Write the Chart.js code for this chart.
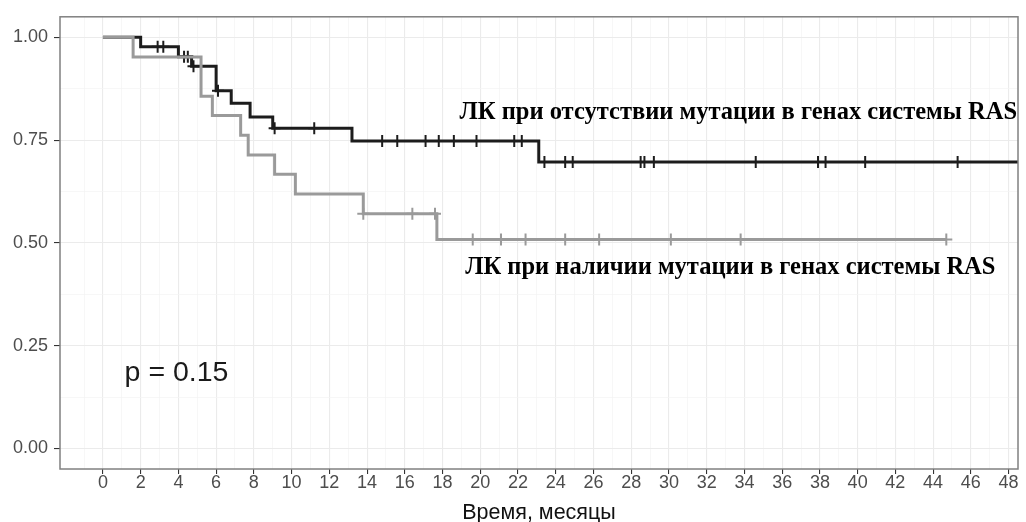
<!DOCTYPE html>
<html>
<head>
<meta charset="utf-8">
<script src="https://cdn.jsdelivr.net/npm/chart.js@4.4.1/dist/chart.umd.min.js"></script>
<style>
   html, body { margin: 0; padding: 0; background: #fff; overflow: hidden; }
</style>
</head>
<body>
<canvas id="km" width="1026" height="545"></canvas>
<script>
// no RAS mutation (black curve): step times and survival after each step
const wtTimes = [0, 2.0, 4.0, 4.7, 6.0, 6.8, 7.8, 9.0, 13.2, 23.1, 48.5];
const wtSurv  = [1, 0.977, 0.953, 0.93, 0.87, 0.84, 0.806, 0.779, 0.748, 0.697, 0.697];
const wtCensored = [2.9, 3.2, 4.3, 4.5, 4.8, 6.1, 9.1, 11.2, 14.8, 15.6, 17.1, 17.8, 18.6, 19.8,
   21.8, 22.2, 23.4, 24.5, 24.9, 28.5, 28.7, 29.2, 34.6, 37.9, 38.3, 40.4, 45.3];

// RAS mutation (grey curve)
const mutTimes = [0, 1.6, 5.2, 5.8, 7.3, 7.7, 9.1, 10.2, 13.8, 17.7, 44.7];
const mutSurv  = [1, 0.952, 0.857, 0.81, 0.762, 0.714, 0.667, 0.619, 0.571, 0.508, 0.508];
const mutCensored = [13.8, 16.4, 17.6, 19.6, 21.1, 22.4, 24.5, 26.3, 30.1, 33.8, 44.7];

// axis breaks
const xMajor = [0, 2, 4, 6, 8, 10, 12, 14, 16, 18, 20, 22, 24, 26, 28, 30, 32, 34, 36, 38, 40, 42, 44, 46, 48];
const xMinor = [-1, 1, 3, 5, 7, 9, 11, 13, 15, 17, 19, 21, 23, 25, 27, 29, 31, 33, 35, 37, 39, 41, 43, 45, 47];
const yMajor = [0, 0.25, 0.5, 0.75, 1];
const yMinor = [0.125, 0.375, 0.625, 0.875];

const labelNoMut = 'ЛК при отсутствии мутации в генах системы RAS';
const labelMut = 'ЛК при наличии мутации в генах системы RAS';
const pLabel = 'p = 0.15';
const xTitle = 'Время, месяцы';

const SANS = '"Liberation Sans", Arial, sans-serif';
const SERIF = '"Liberation Serif", "Times New Roman", serif';

function curve(times, surv) {
   return times.map((t, i) => ({ x: t, y: surv[i] }));
}

// censor marks sit on the curve: value of the step function at that time
function censorPoints(marks, times, surv) {
   return marks.map(t => {
      let s = surv[0];
      for (let i = 0; i < times.length; i++) {
         if (times[i] <= t) s = surv[i];
      }
      return { x: t, y: s };
   });
}

function allTicks(major, minor) {
   return major.concat(minor).sort((a, b) => a - b).map(v => ({ value: v }));
}

const panelDecor = {
   id: 'panelDecor',
   afterDatasetsDraw(chart) {
      const { ctx, chartArea: a } = chart;
      ctx.save();
      ctx.strokeStyle = '#808080';
      ctx.lineWidth = 1.5;
      ctx.strokeRect(a.left, a.top, a.right - a.left, a.bottom - a.top);
      ctx.restore();
   },
   afterDraw(chart) {
      const { ctx } = chart;
      const x = chart.scales.x, y = chart.scales.y;
      ctx.save();
      ctx.fillStyle = '#000';
      ctx.textBaseline = 'middle';
      ctx.textAlign = 'left';
      ctx.font = 'bold 24.5px ' + SERIF;
      ctx.fillText(labelNoMut, x.getPixelForValue(18.9), y.getPixelForValue(0.816));
      ctx.fillText(labelMut, x.getPixelForValue(19.2), y.getPixelForValue(0.44));
      ctx.fillStyle = '#1a1a1a';
      ctx.font = '28.5px ' + SANS;
      ctx.fillText(pLabel, x.getPixelForValue(1.15), y.getPixelForValue(0.184));
      ctx.restore();
   }
};

const BLACK = '#1c1c1c';
const GREY = '#9a9a9a';

new Chart(document.getElementById('km'), {
   type: 'line',
   data: {
      datasets: [{
         data: curve(mutTimes, mutSurv),
         stepped: 'before',
         borderColor: GREY,
         borderWidth: 3,
         pointRadius: 0
      }, {
         data: censorPoints(mutCensored, mutTimes, mutSurv),
         showLine: false,
         pointStyle: 'cross',
         pointRadius: 6,
         pointBorderWidth: 2,
         pointBorderColor: GREY
      }, {
         data: curve(wtTimes, wtSurv),
         stepped: 'before',
         borderColor: BLACK,
         borderWidth: 3,
         pointRadius: 0
      }, {
         data: censorPoints(wtCensored, wtTimes, wtSurv),
         showLine: false,
         pointStyle: 'cross',
         pointRadius: 6,
         pointBorderWidth: 2,
         pointBorderColor: BLACK
      }]
   },
   options: {
      responsive: false,
      animation: false,
      layout: { padding: { top: 16, right: 6, left: 0, bottom: 0 } },
      scales: {
         x: {
            type: 'linear',
            min: -2.275,
            max: 48.5,
            afterBuildTicks: axis => { axis.ticks = allTicks(xMajor, xMinor); },
            afterFit: axis => { axis.height = 76; },
            border: { display: false },
            grid: {
               color: c => xMajor.includes(c.tick.value) ? '#ebebeb' : '#f3f3f3',
               lineWidth: c => xMajor.includes(c.tick.value) ? 1.1 : 0.7,
               tickColor: c => xMajor.includes(c.tick.value) ? '#333' : 'rgba(0,0,0,0)',
               tickLength: 5
            },
            ticks: {
               autoSkip: false,
               maxRotation: 0,
               padding: 0,
               color: '#4d4d4d',
               font: { family: SANS, size: 18, lineHeight: 1 },
               callback: v => xMajor.includes(v) ? String(v) : ''
            },
            title: {
               display: true,
               text: xTitle,
               color: '#111',
               font: { family: SANS, size: 21.5 },
               padding: { top: 0, bottom: 19 }
            }
         },
         y: {
            type: 'linear',
            min: -0.05,
            max: 1.05,
            afterBuildTicks: axis => { axis.ticks = allTicks(yMajor, yMinor); },
            afterFit: axis => { axis.width = 60; },
            border: { display: false },
            grid: {
               color: c => yMajor.includes(c.tick.value) ? '#ebebeb' : '#f3f3f3',
               lineWidth: c => yMajor.includes(c.tick.value) ? 1.1 : 0.7,
               tickColor: c => yMajor.includes(c.tick.value) ? '#333' : 'rgba(0,0,0,0)',
               tickLength: 6
            },
            ticks: {
               autoSkip: false,
               padding: 6,
               color: '#4d4d4d',
               font: { family: SANS, size: 18 },
               callback: v => yMajor.includes(v) ? v.toFixed(2) : ''
            }
         }
      },
      plugins: {
         legend: { display: false },
         tooltip: { enabled: false }
      }
   },
   plugins: [panelDecor]
});
</script>
</body>
</html>
